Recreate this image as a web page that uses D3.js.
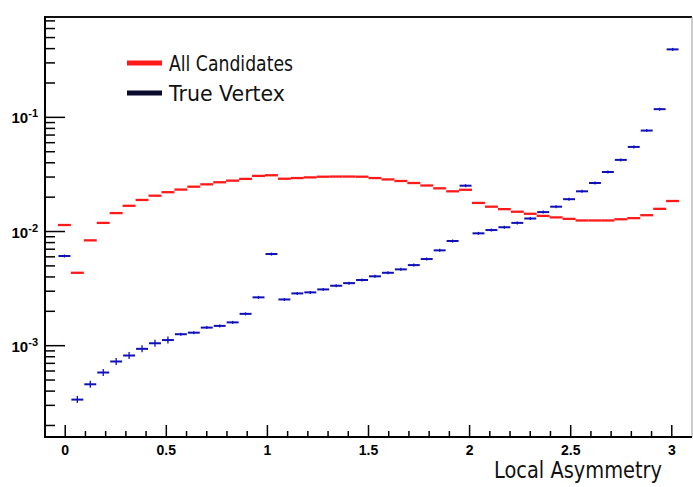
<!DOCTYPE html>
<html>
<head>
<meta charset="utf-8">
<script src="https://cdn.jsdelivr.net/npm/d3@7/dist/d3.min.js"></script>
<style>
  html, body { margin: 0; padding: 0; background: #fff; }
  svg { display: block; }
</style>
</head>
<body>
<svg id="chart" width="693" height="487"></svg>
<script>
// ---- data (histogram: 50 bins from -0.1 to 3.1, filled bins 1..48) ----
const histLow = -0.1;
const histHigh = 3.1;
const nBins = 50;
const seriesNames = ["All Candidates", "True Vertex"];
const allCandidates = [
  0.0114, 0.00435, 0.00837, 0.0119, 0.0145, 0.0168, 0.0189, 0.0206, 0.0221, 0.0233,
  0.0247, 0.0259, 0.0270, 0.0279, 0.0289, 0.0307, 0.0311, 0.0290, 0.0294, 0.0298,
  0.0302, 0.0303, 0.0303, 0.0302, 0.0294, 0.0286, 0.0277, 0.0266, 0.0253, 0.0239,
  0.0225, 0.0232, 0.0178, 0.0165, 0.0157, 0.0149, 0.0143, 0.0137, 0.0133, 0.0129,
  0.0125, 0.0125, 0.0125, 0.0128, 0.0131, 0.0139, 0.0158, 0.0185
];
const trueVertex = [
  0.00610, 0.000337, 0.000459, 0.000582, 0.000727, 0.000820, 0.000938, 0.00105, 0.00112, 0.00126,
  0.00130, 0.00144, 0.00149, 0.00160, 0.00190, 0.00265, 0.00635, 0.00254, 0.00287, 0.00293,
  0.00311, 0.00335, 0.00353, 0.00376, 0.00405, 0.00435, 0.00466, 0.00508, 0.00574, 0.00684,
  0.00826, 0.0252, 0.00964, 0.0103, 0.0109, 0.0119, 0.0130, 0.0148, 0.0165, 0.0192,
  0.0225, 0.0266, 0.0332, 0.0424, 0.0551, 0.0766, 0.118, 0.394
];
const firstFilledBin = 1;
const xTickLabels = ["0", "0.5", "1", "1.5", "2", "2.5", "3"];
const xTickValues = [0, 0.5, 1, 1.5, 2, 2.5, 3];
const yMajorTicks = [1e-3, 1e-2, 1e-1];
const yMajorExponents = ["-3", "-2", "-1"];
const xTitle = "Local Asymmetry";

// ---- layout ----
const svg = d3.select("#chart");
const L = 45, R = 692, T = 17, B = 437;
const binW = (histHigh - histLow) / nBins;

const x = d3.scaleLinear().domain([histLow, histHigh]).range([L, R]);
const y = d3.scaleLog().domain([1.585e-4, 0.757]).range([B, T]);

const binLo = i => histLow + (i + firstFilledBin) * binW;
const binC = i => binLo(i) + binW / 2;

// plot marks
const gRed = svg.append("g");
gRed.selectAll("line").data(allCandidates).join("line")
  .attr("x1", (d, i) => x(binLo(i)))
  .attr("x2", (d, i) => x(binLo(i) + binW))
  .attr("y1", d => y(d)).attr("y2", d => y(d))
  .attr("stroke", "#ff1a1a").attr("stroke-width", 2.3);

const blue = "#1010b8";
const gBlue = svg.append("g");
gBlue.selectAll("line.h").data(trueVertex).join("line").attr("class", "h")
  .attr("x1", (d, i) => x(binLo(i)) + 0.5)
  .attr("x2", (d, i) => x(binLo(i) + binW) - 0.5)
  .attr("y1", d => y(d)).attr("y2", d => y(d))
  .attr("stroke", blue).attr("stroke-width", 2);
gBlue.selectAll("line.v").data(trueVertex).join("line").attr("class", "v")
  .attr("x1", (d, i) => x(binC(i))).attr("x2", (d, i) => x(binC(i)))
  .attr("y1", d => y(d) - (d < 0.0012 ? 3.5 : 1.5))
  .attr("y2", d => y(d) + (d < 0.0012 ? 3.5 : 1.5))
  .attr("stroke", blue).attr("stroke-width", 1.3);

// frame
svg.append("line").attr("x1", L).attr("x2", R).attr("y1", T).attr("y2", T)
  .attr("stroke", "#111").attr("stroke-width", 2);
svg.append("line").attr("x1", R).attr("x2", R).attr("y1", T).attr("y2", B)
  .attr("stroke", "#999").attr("stroke-width", 1);

// x axis
const xAxis = svg.append("g");
xAxis.append("line").attr("x1", L - 1).attr("x2", R).attr("y1", B).attr("y2", B)
  .attr("stroke", "#000").attr("stroke-width", 2);
const xMinor = d3.range(0, 31).map(k => k / 10);
xAxis.selectAll("line.t").data(xMinor).join("line").attr("class", "t")
  .attr("x1", d => x(d)).attr("x2", d => x(d))
  .attr("y1", B).attr("y2", (d, i) => B - (i % 5 === 0 ? 12 : 6))
  .attr("stroke", "#000").attr("stroke-width", 1.5);
xAxis.selectAll("text").data(xTickValues).join("text")
  .attr("x", d => x(d)).attr("y", 455)
  .attr("text-anchor", "middle")
  .attr("font-family", "Liberation Sans, Arial, sans-serif")
  .attr("font-weight", "bold").attr("font-size", 14)
  .text((d, i) => xTickLabels[i]);

// y axis
const yAxis = svg.append("g");
yAxis.append("line").attr("x1", L).attr("x2", L).attr("y1", T - 1).attr("y2", B + 1)
  .attr("stroke", "#000").attr("stroke-width", 2);
const yMinor = [];
[1e-4, 1e-3, 1e-2, 1e-1].forEach(dec => {
  for (let m = 1; m <= 9; m++) {
    const v = dec * m;
    if (v >= y.domain()[0] && v <= y.domain()[1]) yMinor.push({ v, major: m === 1 });
  }
});
yAxis.selectAll("line.t").data(yMinor).join("line").attr("class", "t")
  .attr("x1", L).attr("x2", d => L + (d.major ? 20 : 10))
  .attr("y1", d => y(d.v)).attr("y2", d => y(d.v))
  .attr("stroke", "#000").attr("stroke-width", 1.5);
const yl = yAxis.selectAll("text").data(yMajorTicks).join("text")
  .attr("x", 38).attr("y", d => y(d) + 6)
  .attr("text-anchor", "end")
  .attr("font-family", "Liberation Sans, Arial, sans-serif")
  .attr("font-weight", "bold").attr("font-size", 15);
yl.append("tspan").text("10");
yl.append("tspan").attr("dy", -6).attr("font-size", 11).text((d, i) => yMajorExponents[i]);

// x title
svg.append("text").attr("x", 662).attr("y", 478).attr("text-anchor", "end")
  .attr("font-family", "DejaVu Sans, sans-serif").attr("font-size", 23)
  .attr("textLength", 168).attr("lengthAdjust", "spacingAndGlyphs")
  .attr("fill", "#111")
  .text(xTitle);

// legend
const legColors = ["#ff1a1a", "#0a0a2e"];
const legY = [63, 93];
const legW = [124, 116];
const leg = svg.append("g");
seriesNames.forEach((name, i) => {
  leg.append("line").attr("x1", 127).attr("x2", 162)
    .attr("y1", legY[i]).attr("y2", legY[i])
    .attr("stroke", legColors[i]).attr("stroke-width", 5);
  leg.append("text").attr("x", 169).attr("y", legY[i] + 8)
    .attr("font-family", "DejaVu Sans, sans-serif").attr("font-size", 22)
    .attr("textLength", legW[i]).attr("lengthAdjust", "spacingAndGlyphs")
    .attr("fill", "#111")
    .text(name);
});
</script>
</body>
</html>
